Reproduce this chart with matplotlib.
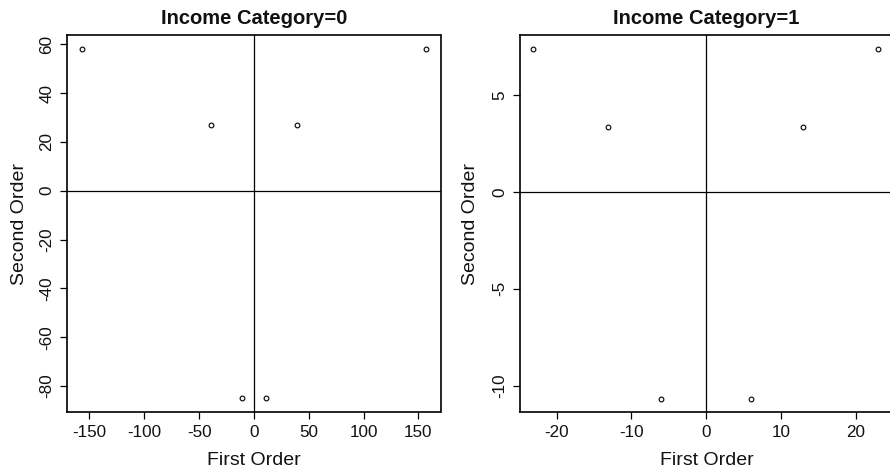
import matplotlib
matplotlib.use("Agg")
import matplotlib.pyplot as plt

plt.rcParams['font.family'] = ['Liberation Sans', 'DejaVu Sans']

# Panel 0: Income Category=0
x0 = [-157, 157, -39, 39, -11, 11]
y0 = [58.2, 58.2, 27, 27, -85, -85]
xticks0 = [-150, -100, -50, 0, 50, 100, 150]
yticks0 = [-80, -60, -40, -20, 0, 20, 40, 60]
xlim0 = (-170.5, 170.2)
ylim0 = (-90.8, 63.8)

# Panel 1: Income Category=1
x1 = [-23.1, 23.0, -13.1, 13.0, -6.0, 6.0]
y1 = [7.37, 7.37, 3.36, 3.36, -10.67, -10.67]
xticks1 = [-20, -10, 0, 10, 20]
yticks1 = [-10, -5, 0, 5]
xlim1 = (-24.9, 25.0)
ylim1 = (-11.37, 8.09)

titles = ["Income Category=0", "Income Category=1"]

W, H = 890, 475
fig = plt.figure(figsize=(W / 100, H / 100), dpi=100)

def frac(l, r, t, b):
    return [l / W, 1 - b / H, (r - l) / W, (b - t) / H]

ax0 = fig.add_axes(frac(67, 440.5, 35, 412.3))
ax1 = fig.add_axes(frac(520, 893, 35, 412.3))

for ax, xs, ys, xt, yt, xl, yl, title, ylpad in [
    (ax0, x0, y0, xticks0, yticks0, xlim0, ylim0, titles[0], 8),
    (ax1, x1, y1, xticks1, yticks1, xlim1, ylim1, titles[1], 10),
]:
    ax.plot(xs, ys, linestyle='none', marker='o', markersize=3.4,
            markerfacecolor='none', markeredgecolor='black', markeredgewidth=0.8)
    ax.axhline(0, color='black', linewidth=0.9)
    ax.axvline(0, color='black', linewidth=0.9)
    ax.set_xlim(*xl)
    ax.set_ylim(*yl)
    ax.set_xticks(xt)
    ax.set_yticks(yt)
    ax.set_xticklabels([str(v) for v in xt])
    ax.set_yticklabels([str(v) for v in yt], rotation=90, va='center')
    ax.tick_params(direction='out', length=5, width=0.9, labelsize=12.3, pad=4,
                   color='black', labelcolor='#111111')
    for s in ax.spines.values():
        s.set_linewidth(1.2)
        s.set_color('black')
    ax.set_xlabel("First Order", fontsize=14, labelpad=9, color='#111111')
    ax.set_ylabel("Second Order", fontsize=14, labelpad=ylpad, color='#111111')
    ax.set_title(title, fontsize=14.5, fontweight='bold', pad=7.8, color='#111111')

fig.savefig("out.png", dpi=100)
